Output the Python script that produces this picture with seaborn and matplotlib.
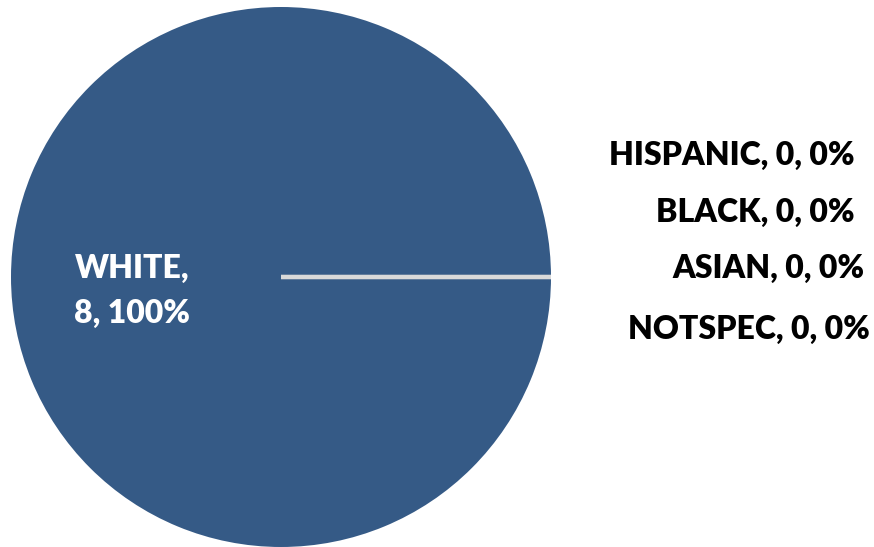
import matplotlib
matplotlib.use("Agg")
import matplotlib.pyplot as plt
import seaborn as sns

# Student counts by race/ethnicity
categories = ["WHITE", "HISPANIC", "BLACK", "ASIAN", "NOTSPEC"]
counts = [8, 0, 0, 0, 0]

sns.set_theme(style="white")
plt.rcParams["font.family"] = ["Lato", "DejaVu Sans"]

W, H = 874, 547
fig = plt.figure(figsize=(W / 100, H / 100), dpi=100)
ax = fig.add_axes([0, 0, 1, 1])

fill = "#355a86"
wedges, _ = ax.pie(counts, colors=[fill] * len(counts), center=(281, 270),
                   radius=270, startangle=0, counterclock=True,
                   wedgeprops=dict(linewidth=0))
for w, v in zip(wedges, counts):
    if v == 0:
        w.set_edgecolor("#d9d9d9")
        w.set_linewidth(3)
    else:
        w.set_edgecolor(fill)
        w.set_linewidth(0)

ax.set_xlim(0, W)
ax.set_ylim(0, H)
ax.set_aspect("equal")
ax.axis("off")

total = sum(counts)
labels = [f"{c}, {v}, {v / total:.0%}" for c, v in zip(categories, counts)]

# Main slice label inside the pie, wrapped after the name
ax.text(132, 256, labels[0].replace(", ", ",\n", 1), color="white",
        fontsize=23, fontweight="heavy", ha="center", va="center",
        linespacing=1.68)

# Zero-value slices labelled at the right
right_pos = [(855, 392), (855, 335), (865, 279), (870, 218)]
for lab, (x, y) in zip(labels[1:], right_pos):
    ax.text(x, y, lab, color="black", fontsize=23, fontweight="heavy",
            ha="right", va="center")

fig.savefig("out.png", dpi=100)
